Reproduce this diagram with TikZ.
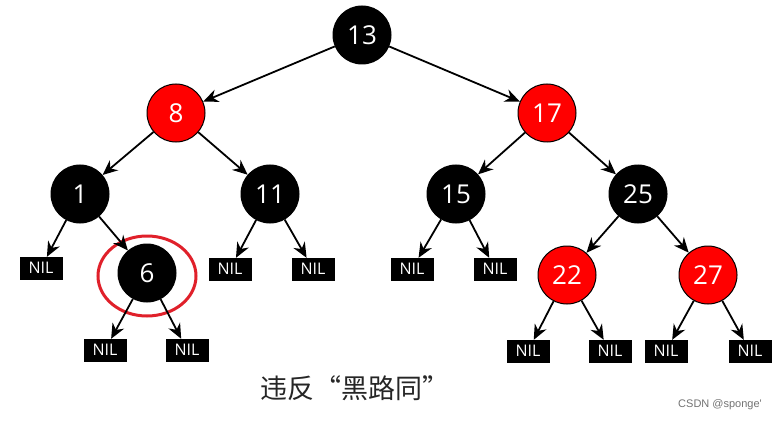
\documentclass[tikz,border=0pt]{standalone}
\usepackage{fontspec}
\setmainfont{Open Sans}
\newfontfamily\cjk{Noto Sans CJK SC}
\newfontfamily\creditfont{Liberation Sans}
\usepackage{tikz}
\usetikzlibrary{arrows.meta,shapes.geometric}
\definecolor{rbred}{HTML}{FF0000}
\definecolor{ringred}{HTML}{E0202A}

\begin{document}
\begin{tikzpicture}[
  x=1pt,y=-1pt,
  blk/.style={circle,draw=black,line width=1pt,fill=black,text=white,minimum size=58pt,inner sep=0pt,font=\fontsize{26}{28}\selectfont},
  red/.style={blk,fill=rbred},
  nil/.style={draw=black,fill=black,text=white,minimum width=42pt,minimum height=22pt,inner sep=0pt,font=\fontsize{16}{17}\selectfont},
  arr/.style={-{Stealth[length=15pt,width=13pt]},line width=1.8pt},
  ring/.style={ellipse,draw=ringred,line width=3pt,minimum width=98pt,minimum height=80pt},
]
  \useasboundingbox[fill=white] (0,0) rectangle (783,422);

  % root and first level
  \node[blk] (n13) at (362,35)  {13};
  \node[red] (n8)  at (176,113) {8};
  \node[red] (n17) at (547,113) {17};

  % second level
  \node[blk] (n1)  at (80,194)  {1};
  \node[blk] (n11) at (270,194) {11};
  \node[blk] (n15) at (456,194) {15};
  \node[blk] (n25) at (638,194) {25};

  % third level
  \node[blk] (n6)  at (147,273) {6};
  \node[red] (n22) at (567,275) {22};
  \node[red] (n27) at (708,275) {27};
  \node[ring] (ring6) at (147,276) {};

  % leaves
  \node[nil] (nil1a)  at (41,268)  {NIL};
  \node[nil] (nil11a) at (230,269) {NIL};
  \node[nil] (nil11b) at (313,269) {NIL};
  \node[nil] (nil15a) at (412,269) {NIL};
  \node[nil] (nil15b) at (495,269) {NIL};
  \node[nil] (nil6a)  at (105,350) {NIL};
  \node[nil] (nil6b)  at (187,350) {NIL};
  \node[nil] (nil22a) at (528,351) {NIL};
  \node[nil] (nil22b) at (610,351) {NIL};
  \node[nil] (nil27a) at (666,351) {NIL};
  \node[nil] (nil27b) at (750,351) {NIL};

  \draw[arr] (n13) -- (n8);
  \draw[arr] (n13) -- (n17);
  \draw[arr] (n8)  -- (n1);
  \draw[arr] (n8)  -- (n11);
  \draw[arr] (n17) -- (n15);
  \draw[arr] (n17) -- (n25);
  \draw[arr] (n1)  -- (nil1a);
  \draw[arr] (n1)  -- (n6);
  \draw[arr] (n11) -- (nil11a);
  \draw[arr] (n11) -- (nil11b);
  \draw[arr] (n15) -- (nil15a);
  \draw[arr] (n15) -- (nil15b);
  \draw[arr] (n25) -- (n22);
  \draw[arr] (n25) -- (n27);
  \draw[arr] (n6)  -- (nil6a);
  \draw[arr] (n6)  -- (nil6b);
  \draw[arr] (n22) -- (nil22a);
  \draw[arr] (n22) -- (nil22b);
  \draw[arr] (n27) -- (nil27a);
  \draw[arr] (n27) -- (nil27b);

  \node[font=\cjk\fontsize{27}{30}\selectfont,text=black!85] (caption) at (355,388) {违反“黑路同”};
  \node[font=\creditfont\fontsize{11}{13}\selectfont,text=black!55] (credit) at (720,405) {CSDN @sponge'};
\end{tikzpicture}
\end{document}
